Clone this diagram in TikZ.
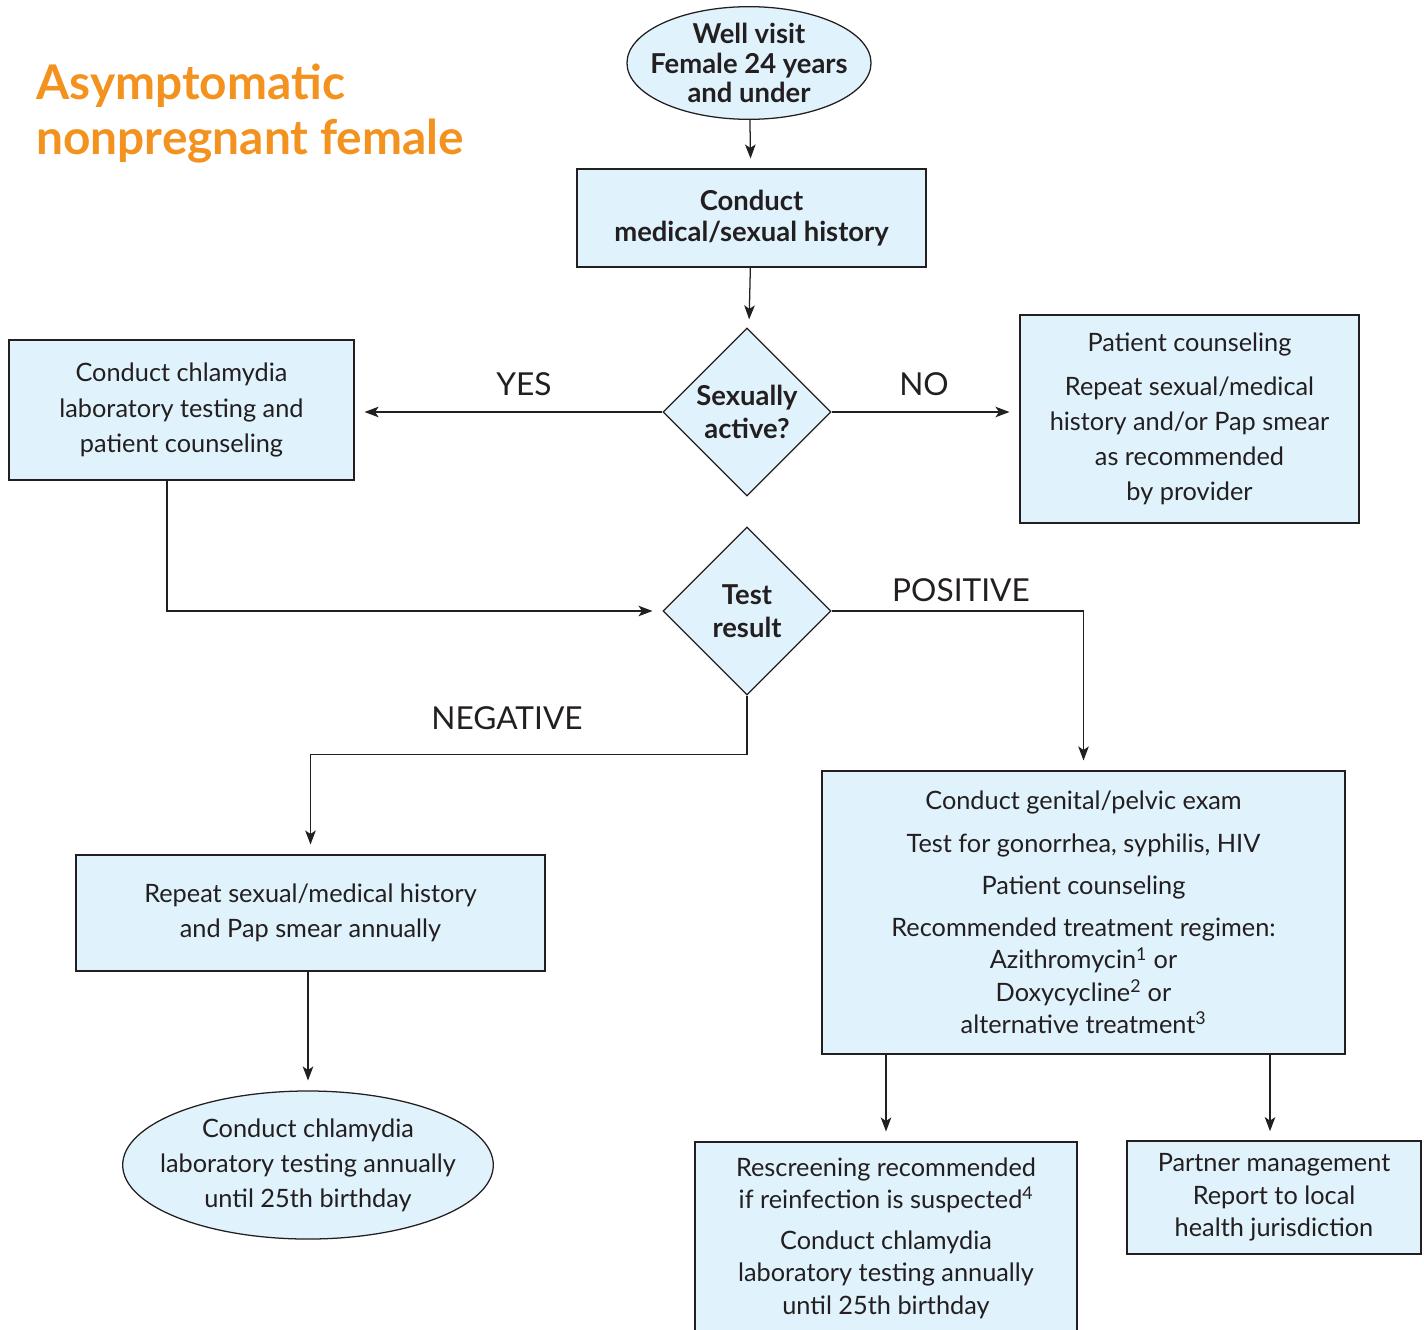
\documentclass[tikz,border=0pt]{standalone}
\usepackage{fontspec}
\setmainfont{Lato}
\usetikzlibrary{shapes.geometric,arrows.meta,positioning}
\definecolor{boxblue}{RGB}{224,242,251}
\definecolor{titleorange}{RGB}{243,146,30}
\definecolor{ink}{RGB}{35,31,32}

\begin{document}
\begin{tikzpicture}[x=0.025cm,y=-0.025cm,
  every node/.style={text=ink,align=center,font=\fontsize{18}{25}\selectfont},
  box/.style={draw=ink,fill=boxblue,line width=0.9pt,inner sep=0pt},
  oval/.style={ellipse,draw=ink,fill=boxblue,line width=0.9pt,inner xsep=-12pt,inner ysep=0pt},
  decision/.style={diamond,draw=ink,fill=boxblue,line width=0.9pt,inner sep=0pt,
    minimum width=4.2cm,minimum height=4.2cm,font=\bfseries\fontsize{19.5}{23.5}\selectfont},
  flow/.style={draw=ink,line width=0.9pt,-{Stealth[length=10pt,width=7.5pt,inset=2.5pt]},shorten >=7pt},
  tag/.style={font=\fontsize{22.5}{26}\selectfont}]
  % page size of the reference, in pixels
  \useasboundingbox (0,0) rectangle (1424,1329);

  \node[anchor=north west,inner sep=0pt,align=left,text=titleorange,
    font=\bfseries\fontsize{34}{39}\selectfont] (title) at (36,64)
    {Asymptomatic\\nonpregnant female};

  % main column
  \node[oval,minimum width=6.1cm,minimum height=2.8cm,font=\bfseries\fontsize{19.5}{21}\selectfont]
    (well) at (749,63) {Well visit\\Female 24 years\\and under};
  \node[box,minimum width=8.725cm,minimum height=2.45cm,font=\bfseries\fontsize{19.5}{22}\selectfont]
    (history) at (751.5,218) {Conduct\\medical/sexual history};
  \node[decision] (active) at (747,412) {Sexually\\active?};
  \node[box,minimum width=8.625cm,minimum height=3.5cm]
    (lab) at (181.5,410) {Conduct chlamydia\\laboratory testing and\\patient counseling};
  \node[box,minimum width=8.475cm,minimum height=5.2cm]
    (counsel) at (1189.5,419) {Patient counseling\\[6pt]Repeat sexual/medical\\history and/or Pap smear\\as recommended\\by provider};
  \node[decision] (result) at (747,611) {Test\\result};

  % negative branch
  \node[box,minimum width=11.725cm,minimum height=2.9cm]
    (repeat) at (310.5,913) {Repeat sexual/medical history\\and Pap smear annually};
  \node[oval,minimum width=9.15cm,minimum height=3.7cm]
    (annual) at (308,1165) {Conduct chlamydia\\laboratory testing annually\\until 25th birthday};

  % positive branch
  \node[box,minimum width=13.075cm,minimum height=7.075cm,font=\fontsize{18}{23}\selectfont]
    (exam) at (1083.5,912.5) {Conduct genital/pelvic exam\\[7pt]Test for gonorrhea, syphilis, HIV\\[7pt]Patient counseling\\[7pt]Recommended treatment regimen:\\Azithromycin\textsuperscript{1} or\\Doxycycline\textsuperscript{2} or\\alternative treatment\textsuperscript{3}};
  \node[box,minimum width=9.55cm,minimum height=4.8cm,font=\fontsize{18}{23}\selectfont]
    (rescreen) at (886,1238) {Rescreening recommended\\if reinfection is suspected\textsuperscript{4}\\[6pt]Conduct chlamydia\\laboratory testing annually\\until 25th birthday};
  \node[box,minimum width=7.35cm,minimum height=2.825cm,font=\fontsize{18}{23}\selectfont]
    (partner) at (1274,1197.5) {Partner management\\Report to local\\health jurisdiction};

  % branch labels
  \node[tag] (yes) at (524,384) {YES};
  \node[tag] (no) at (924,384) {NO};
  \node[tag] (pos) at (961,590) {POSITIVE};
  \node[tag] (neg) at (507,718) {NEGATIVE};

  % connectors
  \draw[flow] (well) -- (history);
  \draw[flow] (history) -- (active);
  \draw[flow] (active.west) -- (active.west -| lab.east);
  \draw[flow] (active.east) -- (active.east -| counsel.west);
  \draw[flow] (lab.south -| 167,0) |- (result.west);
  \draw[flow] (result.east) -| (exam.north);
  \draw[flow] (result.south) -- ++(0,59) -| (repeat.north);
  \draw[flow] (repeat.south -| annual.north) -- (annual.north);
  \draw[flow] (exam.south -| rescreen.north) -- (rescreen.north);
  \draw[flow] (exam.south -| 1270,0) -- (1270,1141);
\end{tikzpicture}
\end{document}
